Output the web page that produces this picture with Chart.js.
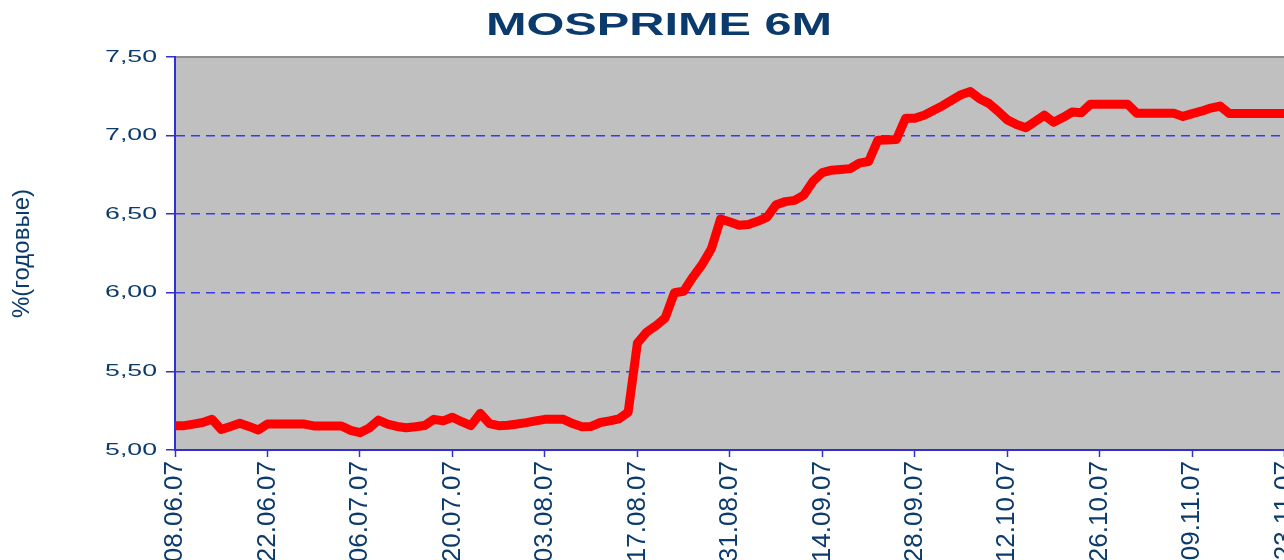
<!DOCTYPE html>
<html>
<head>
<meta charset="utf-8">
<script src="https://cdn.jsdelivr.net/npm/chart.js@4/dist/chart.umd.min.js"></script>
<style>
  html, body { margin: 0; padding: 0; overflow: hidden; background: #ffffff; }
  #wrap { position: relative; width: 1331px; height: 560px; }
</style>
</head>
<body>
<div id="wrap"><canvas id="c"></canvas></div>
<script>
const chartTitle = 'MOSPRIME 6M';
const yAxisTitle = '%(годовые)';
const xTickLabels = ['08.06.07','22.06.07','06.07.07','20.07.07','03.08.07','17.08.07','31.08.07','14.09.07','28.09.07','12.10.07','26.10.07','09.11.07','23.11.07'];
const yTickValues = [5.0, 5.5, 6.0, 6.5, 7.0, 7.5];
const rates = [
  5.155, 5.155, 5.165, 5.175, 5.195, 5.13, 5.15, 5.17, 5.15, 5.127,
  5.165, 5.165, 5.165, 5.165, 5.165, 5.153, 5.153, 5.153, 5.153, 5.125,
  5.11, 5.14, 5.19, 5.165, 5.15, 5.142, 5.148, 5.156, 5.195, 5.185,
  5.208, 5.18, 5.155, 5.233, 5.168, 5.155, 5.158, 5.165, 5.174, 5.185,
  5.195, 5.195, 5.195, 5.168, 5.148, 5.15, 5.175, 5.185, 5.198, 5.24,
  5.68, 5.75, 5.79, 5.84, 6.00, 6.01, 6.10, 6.18, 6.28, 6.47,
  6.45, 6.43, 6.435, 6.455, 6.48, 6.56, 6.58, 6.588, 6.622, 6.71,
  6.765, 6.78, 6.785, 6.79, 6.825, 6.835, 6.97, 6.972, 6.975, 7.11,
  7.11, 7.13, 7.16, 7.19, 7.225, 7.26, 7.28, 7.235, 7.205, 7.155,
  7.10, 7.07, 7.05, 7.09, 7.13, 7.085, 7.115, 7.15, 7.145, 7.20,
  7.20, 7.20, 7.20, 7.20, 7.142, 7.142, 7.142, 7.142, 7.142, 7.122,
  7.14, 7.155, 7.175, 7.188, 7.14, 7.14, 7.14, 7.14, 7.14, 7.14,
  7.14, 7.14, 7.14, 7.14, 7.14, 7.14
];

const NAVY = '#0B3A6C';
const AXIS_BLUE = '#3030D0';
const FONT = '"Liberation Sans", Arial, sans-serif';
const fmtY = v => v.toFixed(2).replace('.', ',');

const plotBg = {
  id: 'plotBg',
  beforeDraw(chart) {
    const { ctx, chartArea: a } = chart;
    ctx.save();
    ctx.fillStyle = '#C0C0C0';
    ctx.fillRect(a.left, a.top, a.right - a.left, a.bottom - a.top);
    ctx.strokeStyle = '#8E8E8E';
    ctx.lineWidth = 2;
    ctx.beginPath();
    ctx.moveTo(a.left, a.top);
    ctx.lineTo(a.right, a.top);
    ctx.stroke();
    ctx.restore();
  }
};

const stretchedText = {
  id: 'stretchedText',
  afterDraw(chart) {
    const { ctx, chartArea: a } = chart;
    // title
    ctx.save();
    ctx.font = 'bold 31px ' + FONT;
    ctx.fillStyle = NAVY;
    ctx.textAlign = 'center';
    ctx.textBaseline = 'alphabetic';
    ctx.translate(659, 35);
    ctx.scale(1.57, 1);
    ctx.fillText(chartTitle, 0, 0);
    ctx.restore();
    // y tick labels
    const ys = chart.scales.y;
    ys.ticks.forEach(t => {
      const py = ys.getPixelForValue(t.value);
      ctx.save();
      ctx.font = '17px ' + FONT;
      ctx.fillStyle = NAVY;
      ctx.textAlign = 'right';
      ctx.textBaseline = 'middle';
      ctx.translate(a.left - 18, py);
      ctx.scale(1.57, 1);
      ctx.fillText(fmtY(t.value), 0, 0);
      ctx.restore();
    });
  }
};

new Chart(document.getElementById('c'), {
  type: 'line',
  data: {
    datasets: [{
      label: chartTitle,
      data: rates.map((v, i) => ({ x: i, y: v })),
      borderColor: '#FF0000',
      borderWidth: 9,
      pointRadius: 0,
      tension: 0,
      borderJoinStyle: 'round',
      borderCapStyle: 'round',
      fill: false
    }]
  },
  options: {
    responsive: true,
    maintainAspectRatio: false,
    animation: false,
    layout: { padding: { top: 57, left: 0, right: 0, bottom: 0 } },
    plugins: {
      legend: { display: false },
      title: { display: false },
      tooltip: { enabled: false }
    },
    scales: {
      x: {
        type: 'linear',
        min: 0,
        max: rates.length - 1,
        afterBuildTicks: scale => {
          scale.ticks = xTickLabels.map((_, i) => ({ value: i * 10 }));
        },
        afterFit: scale => { scale.height = 110; },
        ticks: {
          autoSkip: false,
          minRotation: 90,
          maxRotation: 90,
          padding: 4,
          color: NAVY,
          font: { family: FONT, size: 26 },
          callback: (v, i) => xTickLabels[i]
        },
        grid: {
          drawOnChartArea: false,
          drawTicks: true,
          tickLength: 7,
          tickColor: AXIS_BLUE,
          tickWidth: 1.5
        },
        border: { display: true, color: AXIS_BLUE, width: 2 }
      },
      y: {
        min: yTickValues[0],
        max: yTickValues[yTickValues.length - 1],
        afterBuildTicks: scale => {
          scale.ticks = yTickValues.map(v => ({ value: v }));
        },
        afterFit: scale => { scale.width = 175; },
        ticks: { display: false },
        title: {
          display: true,
          text: yAxisTitle,
          color: NAVY,
          font: { family: FONT, size: 24 },
          padding: { top: 8, bottom: 0 }
        },
        grid: {
          drawTicks: true,
          tickLength: 9,
          tickColor: AXIS_BLUE,
          tickWidth: 1.5,
          lineWidth: 1.5,
          color: ctx => (ctx.tick && (ctx.tick.value === yTickValues[0] || ctx.tick.value === yTickValues[yTickValues.length - 1])) ? 'rgba(0,0,0,0)' : '#3A3AE6'
        },
        border: { display: true, color: AXIS_BLUE, width: 2, dash: [9, 6] }
      }
    }
  },
  plugins: [plotBg, stretchedText]
});
</script>
</body>
</html>
